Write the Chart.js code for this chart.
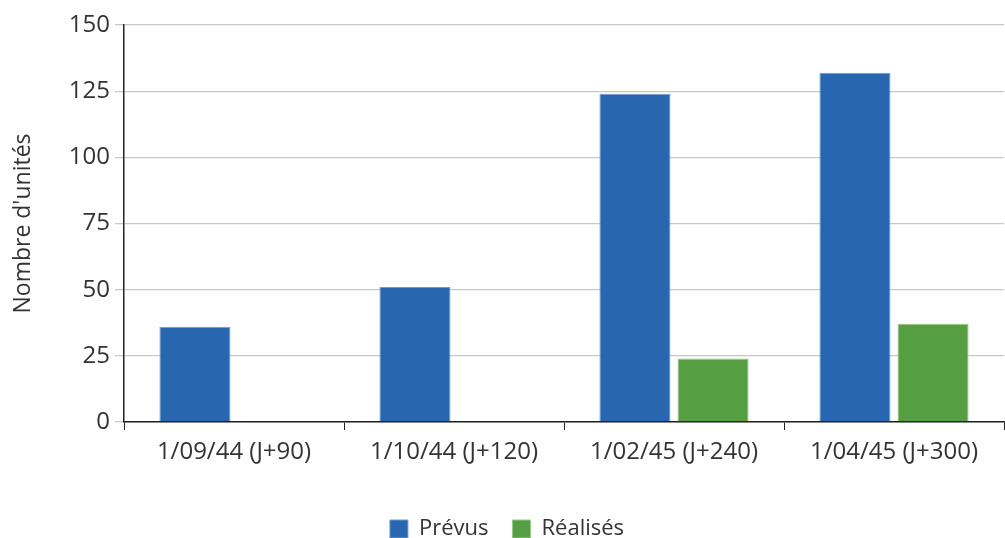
<!DOCTYPE html>
<html>
<head>
<meta charset="utf-8">
<script src="https://cdn.jsdelivr.net/npm/chart.js@4/dist/chart.umd.min.js"></script>
<style>
html,body{margin:0;padding:0;background:#fff;}
#wrap{width:1005px;height:538px;position:relative;}
</style>
</head>
<body>
<div id="wrap"><canvas id="c"></canvas></div>
<script>
const categories = ["1/09/44 (J+90)", "1/10/44 (J+120)", "1/02/45 (J+240)", "1/04/45 (J+300)"];
const prevus = [36, 51, 124, 132];
const realises = [null, null, 24, 37];
const seriesNames = ["Prévus", "Réalisés"];
const yTitle = "Nombre d'unités";

const FONT = "'Open Sans', 'Noto Sans', sans-serif";
new Chart(document.getElementById('c'), {
  type: 'bar',
  data: {
    labels: categories,
    datasets: [
      {label: seriesNames[0], data: prevus, backgroundColor: '#2866b0', borderColor: '#6f9bd3', borderWidth: 1},
      {label: seriesNames[1], data: realises, backgroundColor: '#559e42', borderColor: '#97c98a', borderWidth: 1}
    ]
  },
  options: {
    responsive: true,
    maintainAspectRatio: false,
    animation: false,
    layout: {padding: {left: 10, right: 1, top: 25, bottom: -12}},
    plugins: {
      legend: {
        position: 'bottom',
        labels: {font: {family: FONT, size: 22}, color: '#333', boxWidth: 18, boxHeight: 18, padding: 24, useBorderRadius: false},
      },
      tooltip: {enabled: false}
    },
    datasets: {bar: {categoryPercentage: 0.71, barPercentage: 0.91}},
    scales: {
      x: {
        grid: {display: true, drawOnChartArea: false, color: '#222', tickLength: 8, offset: true},
        border: {color: '#222', width: 1.5},
        ticks: {font: {family: FONT, size: 24}, color: '#333', padding: 8, maxRotation: 0},
        afterFit: (s) => { s.height = 72; }
      },
      y: {
        min: 0, max: 150,
        grid: {color: '#c8c8c8', lineWidth: 1.3, tickLength: 9},
        border: {color: '#222', width: 1.5},
        ticks: {stepSize: 25, font: {family: FONT, size: 24}, color: '#333', padding: 5},
        title: {display: true, text: yTitle, font: {family: FONT, size: 23}, color: '#333', padding: 0},
        afterFit: (s) => { s.width = 114; }
      }
    }
  }
});
</script>
</body>
</html>
